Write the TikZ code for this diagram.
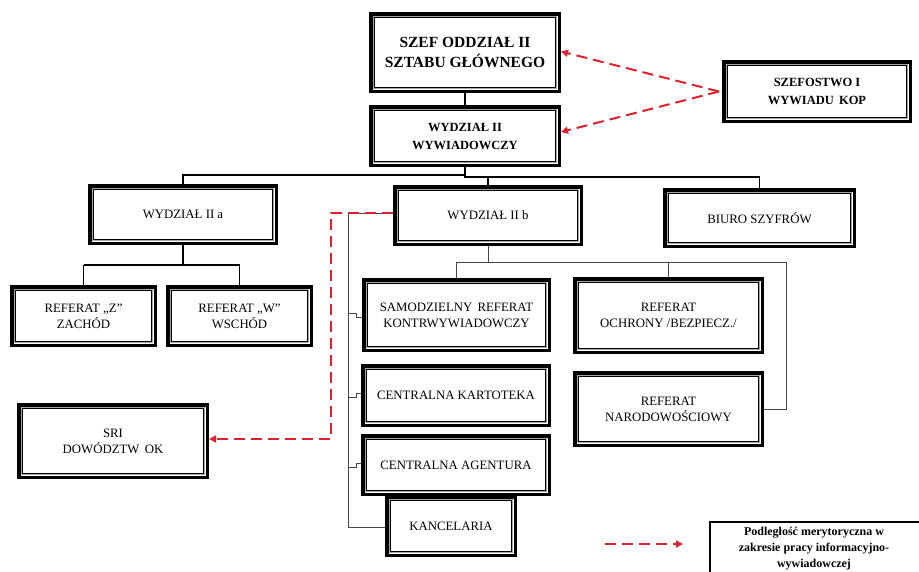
\documentclass[tikz,border=0pt]{standalone}
\usepackage{fontspec}
\setmainfont{Liberation Serif}
\usetikzlibrary{arrows.meta}
\definecolor{redline}{RGB}{222,34,44}
\definecolor{connline}{RGB}{70,70,70}
\tikzset{
  box/.style={draw=black, line width=3.5pt, fill=white, align=center, inner sep=0pt,
    font=\fontsize{12.8}{16}\selectfont,
    path picture={
      \draw[black!35, line width=1.6pt]
        ([shift={(2.6pt,2.6pt)}]path picture bounding box.south west) rectangle
        ([shift={(-2.6pt,-2.6pt)}]path picture bounding box.north east);
      \draw[black, line width=0.8pt]
        ([shift={(3.9pt,3.9pt)}]path picture bounding box.south west) rectangle
        ([shift={(-3.9pt,-3.9pt)}]path picture bounding box.north east);
    }},
  conn/.style={draw=black, line width=1.3pt},
  thinconn/.style={draw=connline, line width=1pt},
  redarrow/.style={draw=redline, line width=2pt, dash pattern=on 11pt off 6pt,
    -{Triangle[length=7pt,width=7pt]}},
  legendbox/.style={draw=black, line width=2.2pt, fill=white, inner sep=0pt},
  legendtext/.style={align=center, inner sep=0pt, font=\bfseries\fontsize{12}{16}\selectfont},
}
\newcommand\orgbox[7][]{%
  \node[box,#1, minimum width={#5-#3-3.5}, minimum height={#6-#4-3.5}]
    (#2) at ({(#3+#5)/2},{(#4+#6)/2}) {#7};}
\begin{document}
\begin{tikzpicture}[x=1pt,y=-1pt]
\useasboundingbox (0,0) rectangle (919,571);
% boxes
\orgbox[font=\bfseries\fontsize{15.5}{20}\selectfont]{szef}{369}{12}{561}{93}{SZEF ODDZIAŁ II\\SZTABU GŁÓWNEGO}
\orgbox[font=\bfseries\fontsize{12.5}{18}\selectfont]{wyd}{369}{105}{561}{167}{WYDZIAŁ II\\WYWIADOWCZY}
\orgbox[font=\bfseries\fontsize{12.5}{18}\selectfont]{kop}{722}{60}{912}{123}{SZEFOSTWO I\\WYWIADU\, KOP}
\orgbox{iia}{88}{184}{278}{245}{WYDZIAŁ II a}
\orgbox{iib}{393}{185}{583}{246}{WYDZIAŁ II b}
\orgbox{biuro}{663}{188}{856}{248}{BIURO SZYFRÓW}
\orgbox{refz}{10}{285}{157}{347}{REFERAT „Z”\\ZACHÓD}
\orgbox{refw}{166}{285}{313}{347}{REFERAT „W”\\WSCHÓD}
\orgbox{samo}{362}{278}{551}{352}{SAMODZIELNY\, REFERAT\\KONTRWYWIADOWCZY}
\orgbox{ochr}{573}{277}{764}{354}{REFERAT\\OCHRONY /BEZPIECZ./}
\orgbox{kart}{361}{364}{551}{427}{CENTRALNA KARTOTEKA}
\orgbox{naro}{573}{371}{764}{447}{REFERAT\\NARODOWOŚCIOWY}
\orgbox{sri}{17}{403}{209}{479}{SRI\\DOWÓDZTW\, OK}
\orgbox{agen}{361}{434}{551}{496}{CENTRALNA AGENTURA}
\orgbox{kanc}{385}{495}{517}{557}{KANCELARIA}
% top-level connectors
\draw[conn] (szef.south) -- (wyd.north);
\draw[conn] (wyd.south) -- (465,175) -- (iia.north |- 0,175) -- (iia.north);
\draw[conn] (wyd.south) -- (465,177) -- (iib.north |- 0,177) -- (iib.north);
\draw[conn] (iib.north |- 0,177) -- (biuro.north |- 0,177) -- (biuro.north);
% Wydzial IIa children
\draw[conn] (iia.south) -- (iia.south |- 0,265);
\draw[conn] (refz.north |- 0,265) -- (refw.north |- 0,265);
\draw[conn] (refz.north |- 0,265) -- (refz.north);
\draw[conn] (refw.north |- 0,265) -- (refw.north);
% Wydzial IIb children
\draw[thinconn] (iib.south) -- (iib.south |- 0,262);
\draw[thinconn] (samo.north |- 0,262) -- (786,262) -- (786,409) -- (naro.east |- 0,409);
\draw[thinconn] (samo.north |- 0,262) -- (samo.north);
\draw[thinconn] (ochr.north |- 0,262) -- (ochr.north);
\draw[thinconn] (iib.west |- 0,213) -- (348,213) -- (348,527) -- (kanc.west |- 0,527);
\draw[thinconn] (348,313) -- (356,313) -- (356,317) -- (samo.west |- 0,317);
\draw[thinconn] (348,397) -- (356,397) -- (356,393) -- (kart.west |- 0,393);
\draw[thinconn] (348,467) -- (356,467) -- (356,463) -- (agen.west |- 0,463);
% red dashed links
\coordinate (kopmeet) at ([xshift=-3pt]kop.west);
\draw[redarrow] (kopmeet) -- ([yshift=1pt]szef.east);
\draw[redarrow] (kopmeet) -- ([yshift=4pt]wyd.east);
\draw[redarrow] (iib.west |- 0,213) -- (331,213) -- (331,439) -- (sri.east |- 0,439);
% legend
\coordinate (legA) at (605,544);
\coordinate (legB) at (683,544);
\draw[redarrow] (legA) -- (legB);
\node[legendbox, anchor=north west, minimum width=230, minimum height=70] (legbox) at (709,521) {};
\node[legendtext] (legtext) at (814,549) {Podległość merytoryczna w\\zakresie pracy informacyjno-\\wywiadowczej};
\end{tikzpicture}
\end{document}
